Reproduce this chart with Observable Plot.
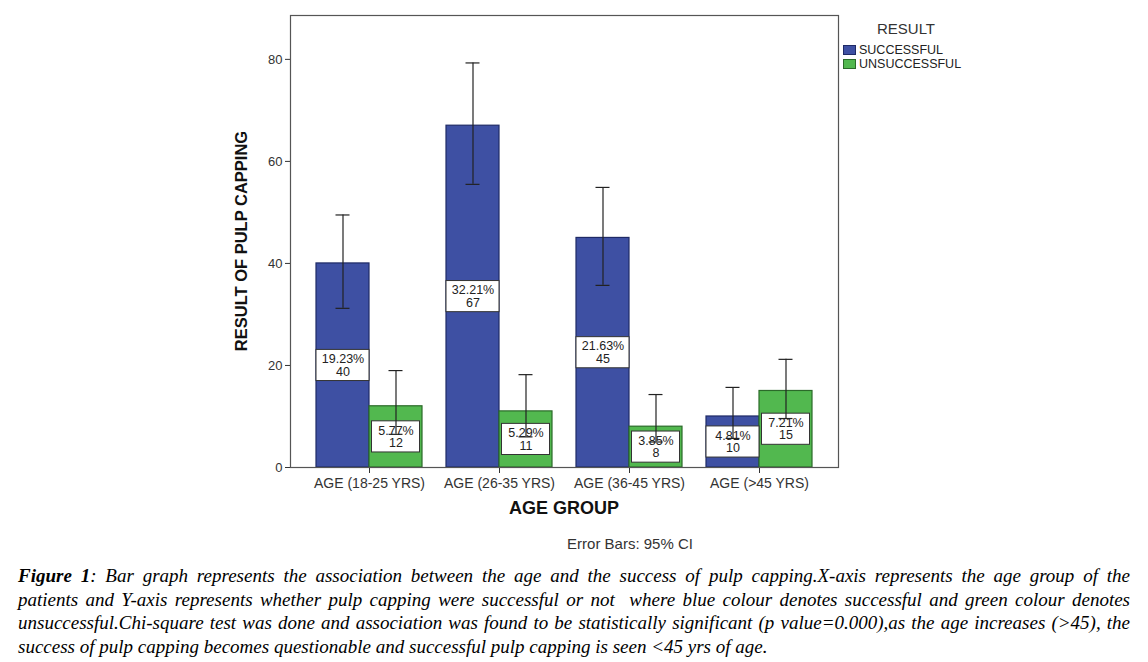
<!DOCTYPE html>
<html>
<head>
<meta charset="utf-8">
<script src="https://cdn.jsdelivr.net/npm/d3@7"></script>
<script src="https://cdn.jsdelivr.net/npm/@observablehq/plot@0.6"></script>
<style>
  html, body { margin: 0; padding: 0; background: #fff; }
  #wrap { position: relative; width: 1148px; height: 662px; overflow: hidden; font-family: "Liberation Sans", Arial, sans-serif; color: #222; }
  #chart { position: absolute; left: 0; top: 0; }
  #chart g[aria-label^="x-axis"] text { font-size: 14px; }
  .abs { position: absolute; white-space: nowrap; }
  .ylab { left: 241px; top: 241px; transform: translate(-50%, -50%) rotate(-90deg); font-weight: bold; font-size: 16.5px; color: #111; }
  .xlab { left: 564px; top: 508px; transform: translate(-50%, -50%); font-weight: bold; font-size: 18px; color: #111; }
  .note { left: 630px; top: 543px; transform: translate(-50%, -50%); font-size: 15px; color: #333; }
  .legtitle { left: 906px; top: 28px; transform: translate(-50%, -50%); font-size: 15px; color: #333; }
  .sw { position: absolute; width: 13px; height: 10px; }
  .legtxt { font-size: 12.5px; color: #222; transform: translateY(-50%); }
  #caption { position: absolute; left: 18px; top: 564px; width: 1112px; font-family: "Liberation Serif", "Times New Roman", serif; font-style: italic; font-size: 19px; line-height: 23.5px; color: #000; }
  #caption .ln { text-align: justify; text-align-last: justify; }
  #caption .last { text-align: left; text-align-last: left; }
</style>
</head>
<body>
<div id="wrap">
  <div id="chart"></div>
  <div class="abs ylab">RESULT OF PULP CAPPING</div>
  <div class="abs xlab">AGE GROUP</div>
  <div class="abs note">Error Bars: 95% CI</div>
  <div class="abs legtitle">RESULT</div>
  <div id="legend"></div>
  <div id="caption">
    <div class="ln"><b>Figure 1</b>: Bar graph represents the association between the age and the success of pulp capping.X-axis represents the age group of the</div>
    <div class="ln">patients and Y-axis represents whether pulp capping were successful or not&nbsp; where blue colour denotes successful and green colour denotes</div>
    <div class="ln">unsuccessful.Chi-square test was done and association was found to be statistically significant (p value=0.000),as the age increases (&gt;45), the</div>
    <div class="ln last">success of pulp capping becomes questionable and successful pulp capping is seen &lt;45 yrs of age.</div>
  </div>
</div>
<script>
// ---- data ----
const ageGroups = ["AGE (18-25 YRS)", "AGE (26-35 YRS)", "AGE (36-45 YRS)", "AGE (>45 YRS)"];
const resultNames = ["SUCCESSFUL", "UNSUCCESSFUL"];
const successCount = [40, 67, 45, 10];
const failCount = [12, 11, 8, 15];
const successPct = ["19.23%", "32.21%", "21.63%", "4.81%"];
const failPct = ["5.77%", "5.29%", "3.85%", "7.21%"];
const successLow = [31.2, 55.5, 35.7, 5.7];
const successHigh = [49.5, 79.3, 54.9, 15.7];
const failLow = [6.5, 6.0, 5.0, 9.6];
const failHigh = [19.0, 18.2, 14.3, 21.2];
const yTicks = [0, 20, 40, 60, 80];

// ---- styles ----
const blueFill = "#3e50a3", blueStroke = "#1f2a66";
const greenFill = "#52b84f", greenStroke = "#2b6a29";
const errColor = "#222";

const success = ageGroups.map((age, i) => ({age, value: successCount[i], pct: successPct[i], lo: successLow[i], hi: successHigh[i]}));
const fail = ageGroups.map((age, i) => ({age, value: failCount[i], pct: failPct[i], lo: failLow[i], hi: failHigh[i]}));

const half = 3.05; // label box half height (in y units)
const bw = 106, hb = bw / 2, c = hb / 2;

const chart = Plot.plot({
  width: 1148,
  height: 530,
  marginLeft: 290,
  marginRight: 310,
  marginTop: 15,
  marginBottom: 63,
  style: {fontFamily: "'Liberation Sans', Arial, sans-serif", fontSize: "13px", color: "#333", background: "transparent"},
  x: {type: "band", domain: ageGroups, paddingInner: 24 / 130, paddingOuter: 26 / 130, label: null, tickSize: 6, tickPadding: 5},
  y: {domain: [0, 88.6], ticks: yTicks, tickSize: 5, tickPadding: 3, label: null},
  marks: [
    Plot.barY(success, {x: "age", y: "value", fill: blueFill, stroke: blueStroke, strokeWidth: 1.2, insetRight: hb}),
    Plot.barY(fail, {x: "age", y: "value", fill: greenFill, stroke: greenStroke, strokeWidth: 1.2, insetLeft: hb}),
    Plot.barY(success, {x: "age", y1: d => d.value / 2 - half, y2: d => d.value / 2 + half, fill: "white", stroke: "#333", insetLeft: c - 26.5, insetRight: bw - c - 26.5}),
    Plot.barY(fail, {x: "age", y1: d => d.value / 2 - half, y2: d => d.value / 2 + half, fill: "white", stroke: "#333", insetLeft: hb + c - 24, insetRight: c - 24}),
    Plot.text(success, {x: "age", y: d => d.value / 2, text: d => `${d.pct}\n${d.value}`, dx: -c, fontSize: 12.5, lineHeight: 1.0, fill: "#222"}),
    Plot.text(fail, {x: "age", y: d => d.value / 2, text: d => `${d.pct}\n${d.value}`, dx: c, fontSize: 12.5, lineHeight: 1.0, fill: "#222"}),
    Plot.ruleX(success, {x: "age", y1: "lo", y2: "hi", dx: -c, stroke: errColor, strokeWidth: 1.2}),
    Plot.ruleX(fail, {x: "age", y1: "lo", y2: "hi", dx: c, stroke: errColor, strokeWidth: 1.2}),
    Plot.tickY(success, {x: "age", y: "hi", insetLeft: c - 7, insetRight: bw - c - 7, stroke: errColor, strokeWidth: 1.2}),
    Plot.tickY(success, {x: "age", y: "lo", insetLeft: c - 7, insetRight: bw - c - 7, stroke: errColor, strokeWidth: 1.2}),
    Plot.tickY(fail, {x: "age", y: "hi", insetLeft: bw - c - 7, insetRight: c - 7, stroke: errColor, strokeWidth: 1.2}),
    Plot.tickY(fail, {x: "age", y: "lo", insetLeft: bw - c - 7, insetRight: c - 7, stroke: errColor, strokeWidth: 1.2}),
    Plot.frame({stroke: "#555", strokeWidth: 1.2})
  ]
});
document.getElementById("chart").appendChild(chart);

// legend
const legend = document.getElementById("legend");
const swatchColors = [[blueFill, blueStroke], [greenFill, greenStroke]];
resultNames.forEach((name, i) => {
  const top = 45 + i * 14;
  const sw = document.createElement("div");
  sw.className = "sw";
  sw.style.left = "843px";
  sw.style.top = top + "px";
  sw.style.background = swatchColors[i][0];
  sw.style.border = "1px solid " + swatchColors[i][1];
  sw.style.boxSizing = "border-box";
  legend.appendChild(sw);
  const t = document.createElement("div");
  t.className = "abs legtxt";
  t.style.left = "859px";
  t.style.top = (top + 5) + "px";
  t.textContent = name;
  legend.appendChild(t);
});
</script>
</body>
</html>
